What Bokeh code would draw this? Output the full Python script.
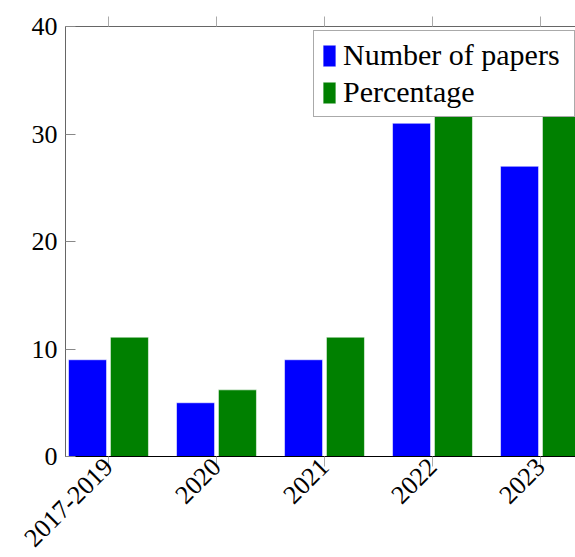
import math
from bokeh.plotting import figure
from bokeh.models import Range1d, FixedTicker, LinearAxis, Legend, LegendItem, ColumnDataSource
from bokeh.embed import file_html
from bokeh.resources import INLINE

years = ["2017-2019", "2020", "2021", "2022", "2023"]
papers = [9, 5, 9, 31, 27]
percentage = [11.1, 6.2, 11.1, 38.3, 33.3]
y_ticks = [0, 10, 20, 30, 40]

xpos = list(range(len(years)))
src = ColumnDataSource(dict(
    x_blue=[x - 0.194 for x in xpos],
    x_green=[x + 0.194 for x in xpos],
    papers=papers, percentage=percentage))

FONT = "Liberation Serif"

p = figure(width=575, height=557,
           x_range=Range1d(-0.398, 4.324), y_range=Range1d(0, 40),
           output_backend="svg", toolbar_location=None,
           min_border_left=65, min_border_top=26, min_border_bottom=101,
           min_border_right=0, x_axis_location=None, y_axis_location=None)
p.outline_line_color = None
p.grid.visible = False
p.background_fill_color = "white"
p.border_fill_color = "white"

r1 = p.vbar(x="x_blue", top="papers", width=0.352, source=src,
            fill_color="#0000ff", line_color="white", line_alpha=0.55, line_width=1)
r2 = p.vbar(x="x_green", top="percentage", width=0.352, source=src,
            fill_color="#008000", line_color="white", line_alpha=0.55, line_width=1)

# left axis
ya = LinearAxis(ticker=FixedTicker(ticks=y_ticks))
ya.axis_line_color = "#666666"
ya.major_tick_in = 10
ya.major_tick_out = 0
ya.major_tick_line_color = "#888888"
ya.minor_tick_line_color = None
ya.major_label_text_font = FONT
ya.major_label_text_font_size = "26px"
ya.major_label_text_color = "black"
ya.major_label_standoff = 8
p.add_layout(ya, "left")

# bottom axis
xa = LinearAxis(ticker=FixedTicker(ticks=xpos),
                major_label_overrides={i: y for i, y in enumerate(years)})
xa.axis_line_color = "black"
xa.major_tick_in = 0
xa.major_tick_out = 10
xa.major_tick_line_color = "#aaaaaa"
xa.minor_tick_line_color = None
xa.major_label_orientation = math.pi / 4
xa.major_label_text_font = FONT
xa.major_label_text_font_size = "26px"
xa.major_label_text_color = "black"
xa.major_label_standoff = -4
p.add_layout(xa, "below")

# top axis (frame line with ticks)
ta = LinearAxis(ticker=FixedTicker(ticks=xpos))
ta.axis_line_color = "#666666"
ta.major_tick_in = 0
ta.major_tick_out = 10
ta.major_tick_line_color = "#aaaaaa"
ta.minor_tick_line_color = None
ta.major_label_text_font_size = "0px"
ta.major_label_text_alpha = 0
ta.major_label_standoff = 0
p.add_layout(ta, "above")

legend = Legend(items=[LegendItem(label="Number of papers", renderers=[r1]),
                       LegendItem(label="Percentage", renderers=[r2])],
                location=(248, 339))
legend.label_text_font = FONT
legend.label_text_font_size = "30px"
legend.label_text_color = "black"
legend.glyph_width = 16
legend.glyph_height = 27
legend.label_height = 27
legend.label_width = 224
legend.label_standoff = 6
legend.spacing = 3
legend.padding = 7
legend.margin = 0
legend.border_line_color = "#555555"
legend.border_line_width = 1
legend.background_fill_alpha = 1
p.add_layout(legend, "center")

open("out.html", "w").write(file_html(p, INLINE))
